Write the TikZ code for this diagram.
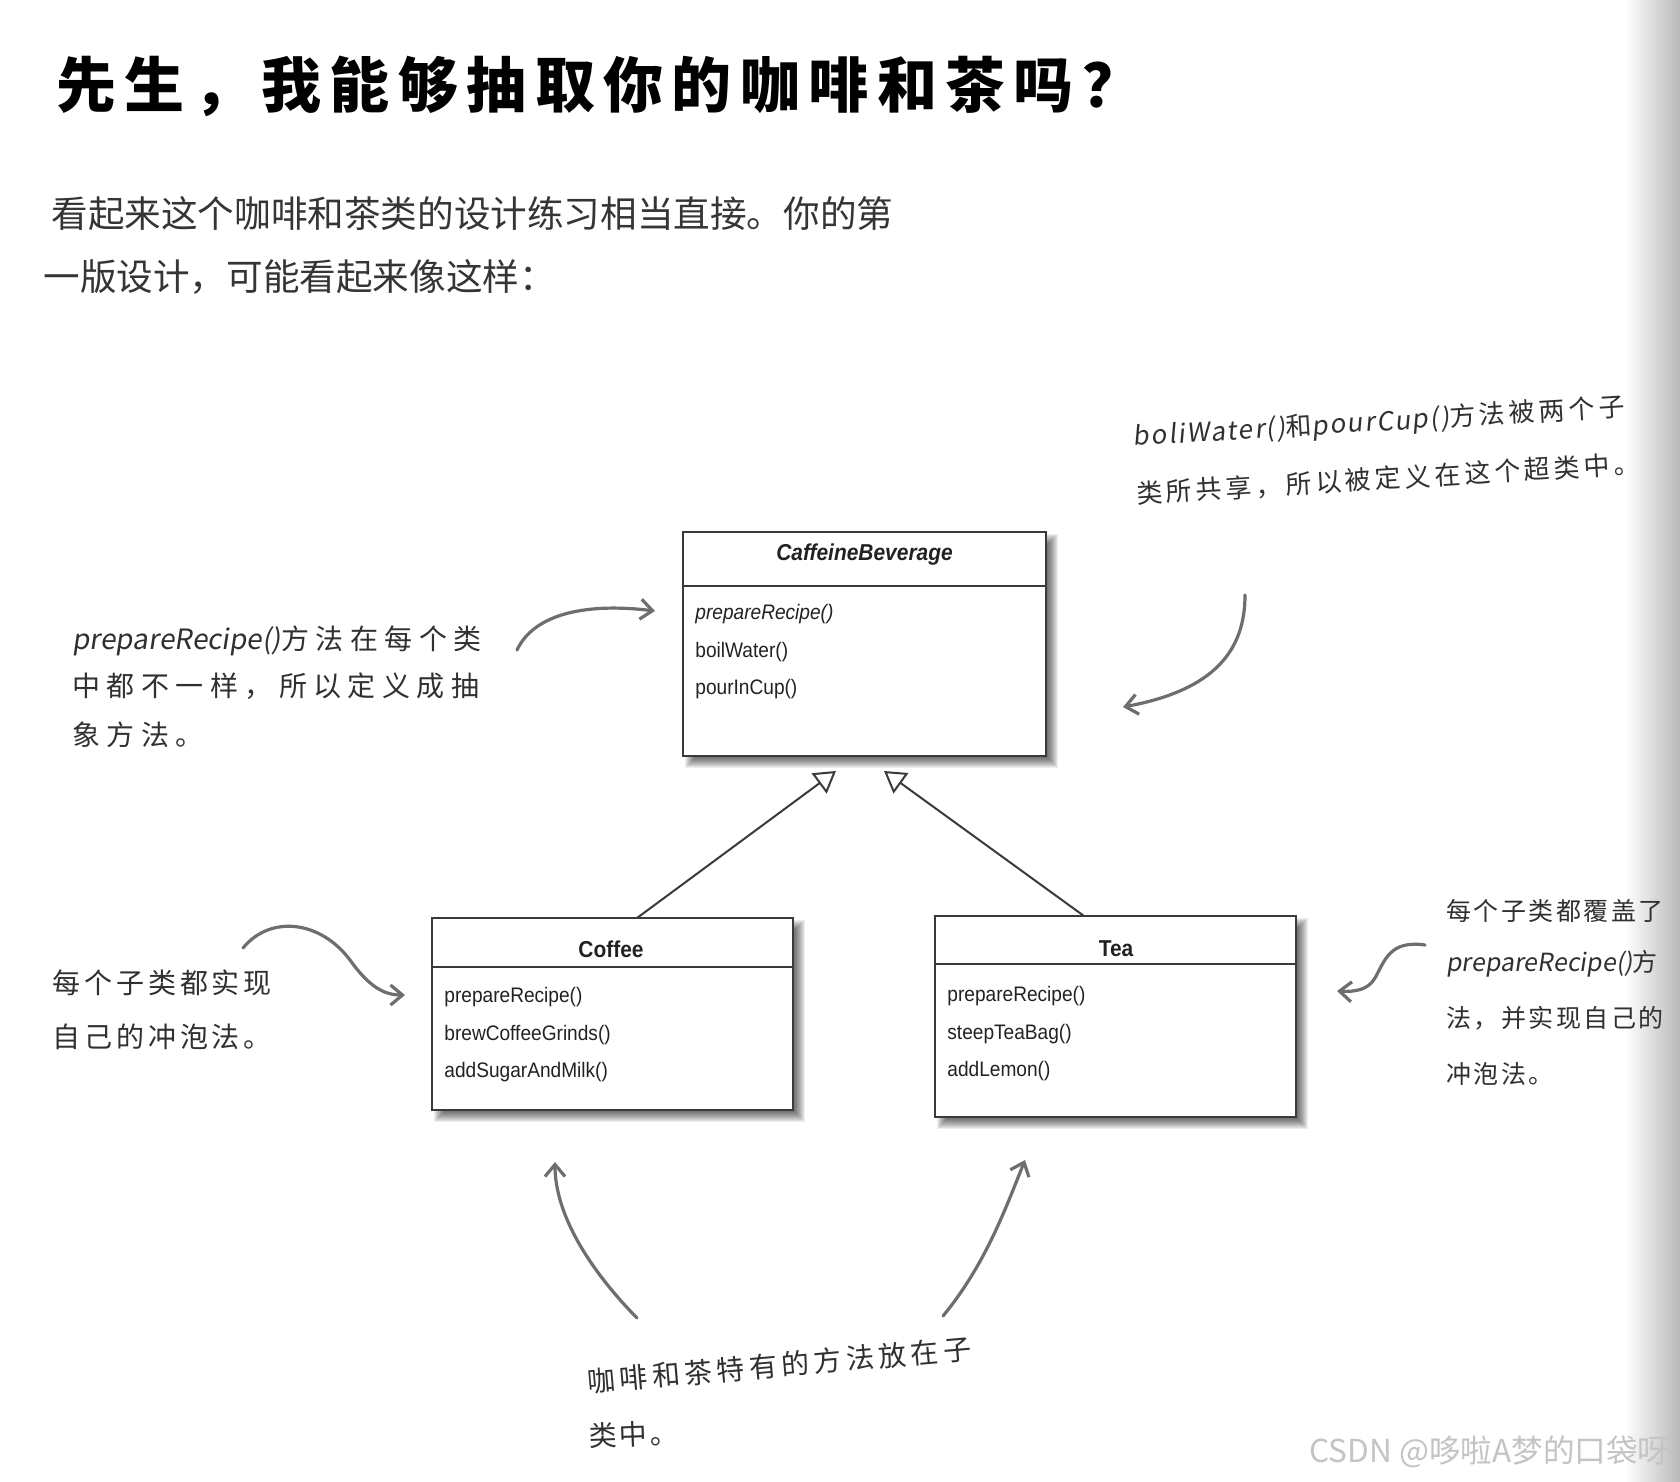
\documentclass[tikz,border=0pt]{standalone}
\usepackage{fontspec}
\setmainfont{Liberation Sans}
\newfontfamily\cjk{Noto Sans CJK SC}
\newfontfamily\umlfont[FakeStretch=0.91]{Liberation Sans}
\usetikzlibrary{arrows.meta,calc}
\definecolor{ink}{HTML}{222222}
\definecolor{subink}{HTML}{353535}
\definecolor{handink}{HTML}{303030}
\definecolor{handline}{HTML}{6E6E6E}
\definecolor{boxline}{HTML}{3A3A3A}
\definecolor{wmcol}{HTML}{C4C4C4}
\newcommand{\latslant}[1]{{\addfontfeature{FakeSlant=0.15,LetterSpace=0}#1}}
\newcommand{\latwide}[1]{{\addfontfeature{FakeSlant=0.15,LetterSpace=7}#1}}
\newcommand{\boxshadow}[4]{%
  \foreach \k in {0,...,10}{%
    \fill[black,opacity=0.065] ({#1+12-\k},{#2+12-\k}) rectangle ({#3+2+\k},{#4+2+\k});
  }}
\begin{document}
\begin{tikzpicture}[x=0.5pt,y=-0.5pt,
  cls/.style={draw=boxline,line width=1pt,fill=white,inner sep=0pt,outer sep=0pt},
  divider/.style={draw=boxline,line width=1pt},
  clsname/.style={font=\umlfont\fontsize{11.5}{13}\selectfont\bfseries,text=ink,inner sep=0pt,anchor=base},
  meth/.style={font=\umlfont\fontsize{10.5}{12}\selectfont,text=ink,inner sep=0pt,anchor=base west},
  inherit/.style={draw=boxline,line width=1pt,-{Triangle[open,length=10.5pt,width=12.5pt,fill=white]}},
  hand/.style={draw=handline,line width=1.6pt,line cap=round,line join=round,-{Straight Barb[length=6pt,width=10pt]}},
  note/.style={text=handink,inner sep=0pt,anchor=west},
  notefont/.style={font=\cjk\fontsize{#1}{#1}\selectfont},
]
\useasboundingbox (0,0) rectangle (1680,1482);
\fill[white] (0,0) rectangle (1680,1482);
\shade[left color=white,right color=gray!55] (1625,0) rectangle (1680,1482);

% ---------- headings
\node[anchor=west,inner sep=0pt,text=black,font=\cjk\bfseries\fontsize{30}{34}\selectfont\addfontfeature{LetterSpace=14}] (title) at (56,86) {先生，我能够抽取你的咖啡和茶吗？};
\node[anchor=west,inner sep=0pt,text=subink,font=\cjk\fontsize{18.3}{20}\selectfont] (sub1) at (51,214) {看起来这个咖啡和茶类的设计练习相当直接。你的第};
\node[anchor=west,inner sep=0pt,text=subink,font=\cjk\fontsize{18.3}{20}\selectfont] (sub2) at (43,277) {一版设计，可能看起来像这样：};

% ---------- shadows
\boxshadow{683}{532}{1046}{756}
\boxshadow{432}{918}{793}{1110}
\boxshadow{935}{916}{1296}{1117}

% ---------- class boxes
\node[cls,anchor=north west,minimum width=181.5pt,minimum height=112pt] (cb) at (683,532) {};
\draw[divider] ([yshift=-27pt]cb.north west) -- ([yshift=-27pt]cb.north east);
\node[clsname,font=\umlfont\fontsize{11.5}{13}\selectfont\bfseries\itshape] (cbname) at (864.5,560) {CaffeineBeverage};
\node[meth,font=\umlfont\fontsize{10.5}{12}\selectfont\itshape] (cbm1) at (695,619) {prepareRecipe()};
\node[meth] (cbm2) at (695,657) {boilWater()};
\node[meth] (cbm3) at (695,694) {pourInCup()};

\node[cls,anchor=north west,minimum width=180.5pt,minimum height=96pt] (coffee) at (432,918) {};
\draw[divider] ([yshift=-24.5pt]coffee.north west) -- ([yshift=-24.5pt]coffee.north east);
\node[clsname] (coffeename) at (611,957) {Coffee};
\node[meth] (cm1) at (444,1002) {prepareRecipe()};
\node[meth] (cm2) at (444,1040) {brewCoffeeGrinds()};
\node[meth] (cm3) at (444,1077) {addSugarAndMilk()};

\node[cls,anchor=north west,minimum width=180.5pt,minimum height=100.5pt] (tea) at (935,916) {};
\draw[divider] ([yshift=-24pt]tea.north west) -- ([yshift=-24pt]tea.north east);
\node[clsname] (teaname) at (1116,956) {Tea};
\node[meth] (tm1) at (947,1001) {prepareRecipe()};
\node[meth] (tm2) at (947,1039) {steepTeaBag()};
\node[meth] (tm3) at (947,1076) {addLemon()};

% ---------- inheritance
\coordinate (tipL) at (836,771);
\coordinate (tipR) at (884,771);
\draw[inherit] ([xshift=12.25pt]coffee.north) -- (tipL);
\draw[inherit] ([xshift=-15.75pt]tea.north) -- (tipR);

% ---------- handwritten notes
\node[note,notefont=13,rotate=3.5] (ntr1) at (1133,438) {\addfontfeature{LetterSpace=15}\latwide{boliWater()}和\latwide{pourCup()}方法被两个子};
\node[note,notefont=13,rotate=3.5] (ntr2) at (1136,494) {\addfontfeature{LetterSpace=15}类所共享，所以被定义在这个超类中。};

\node[note,notefont=14] (nl1) at (72,641) {\addfontfeature{LetterSpace=23}\latslant{prepareRecipe()}方法在每个类};
\node[note,notefont=14] (nl2) at (72,686) {\addfontfeature{LetterSpace=23}中都不一样，所以定义成抽};
\node[note,notefont=14] (nl3) at (72,735) {\addfontfeature{LetterSpace=23}象方法。};

\node[note,notefont=14] (nll1) at (52,983) {\addfontfeature{LetterSpace=14}每个子类都实现};
\node[note,notefont=14] (nll2) at (52,1037) {\addfontfeature{LetterSpace=14}自己的冲泡法。};

\node[note,notefont=12.5] (nr1) at (1446,911) {\addfontfeature{LetterSpace=10}每个子类都覆盖了};
\node[note,notefont=12.5] (nr2) at (1446,964) {\latslant{prepareRecipe()}方};
\node[note,notefont=12.5] (nr3) at (1446,1018) {\addfontfeature{LetterSpace=10}法，并实现自己的};
\node[note,notefont=12.5] (nr4) at (1446,1074) {\addfontfeature{LetterSpace=10}冲泡法。};

\node[note,notefont=14,rotate=5] (nb1) at (587,1382) {\addfontfeature{LetterSpace=16}咖啡和茶特有的方法放在子};
\node[note,notefont=14,rotate=2] (nb2) at (589,1436) {\addfontfeature{LetterSpace=8}类中。};

% ---------- hand arrows
\coordinate (a1s) at (517,650);  \coordinate (a1e) at (655,611);
\draw[hand] (a1s) .. controls (535,612) and (590,603) .. (a1e);
\coordinate (a2s) at (1245,595); \coordinate (a2e) at (1123,707);
\draw[hand] (a2s) .. controls (1245,650) and (1215,690) .. (a2e);
\coordinate (a3s) at (243,948);  \coordinate (a3e) at (405,995);
\draw[hand] (a3s) .. controls (270,915) and (320,920) .. (350,960) .. controls (370,988) and (385,995) .. (a3e);
\coordinate (a4s) at (1425,945); \coordinate (a4e) at (1337,991);
\draw[hand] (a4s) .. controls (1390,940) and (1385,960) .. (1375,978) .. controls (1368,990) and (1355,992) .. (a4e);
\coordinate (a5s) at (637,1318); \coordinate (a5e) at (555,1162);
\draw[hand] (a5s) .. controls (590,1270) and (555,1215) .. (a5e);
\coordinate (a6s) at (943,1316); \coordinate (a6e) at (1025,1160);
\draw[hand] (a6s) .. controls (985,1265) and (1005,1210) .. (a6e);

% ---------- watermark
\node[anchor=west,inner sep=0pt,text=wmcol,font=\cjk\fontsize{15.8}{18}\selectfont] (wm) at (1309,1452) {CSDN @哆啦A梦的口袋呀};
\end{tikzpicture}
\end{document}
